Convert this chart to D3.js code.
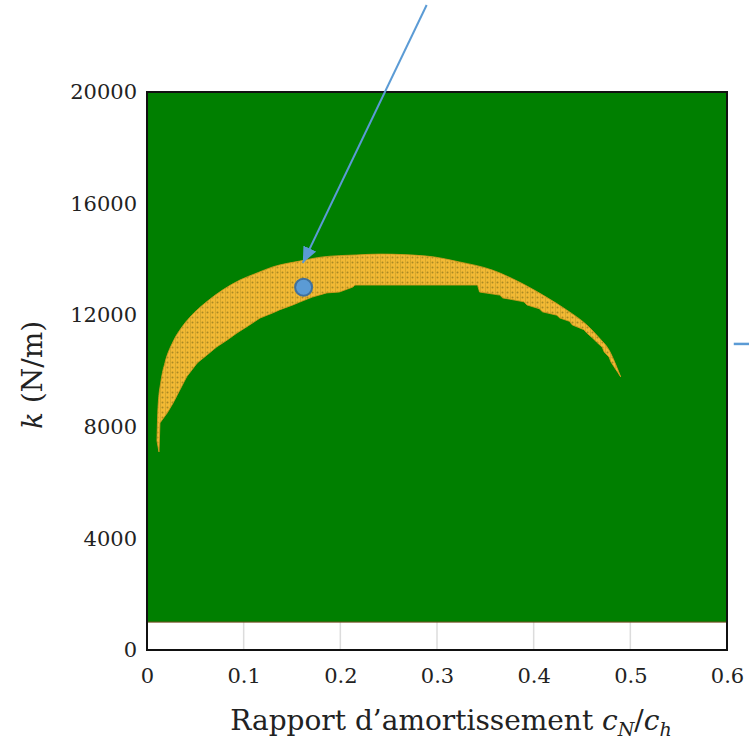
<!DOCTYPE html>
<html>
<head>
<meta charset="utf-8">
<script src="https://cdn.jsdelivr.net/npm/d3@7"></script>
<style>
  html, body { margin: 0; padding: 0; background: #fff; }
  svg { display: block; }
  .tick text { font-family: "DejaVu Serif", serif; fill: #222; }
</style>
</head>
<body>
<svg id="chart" width="749" height="742"></svg>
<script>
// axis ticks
const xTicks = [0, 0.1, 0.2, 0.3, 0.4, 0.5, 0.6];
const yTicks = [0, 4000, 8000, 12000, 16000, 20000];

// green background region (ratio range, k range)
const bgRatio = [0, 0.6];
const bgK = [1000, 20000];

// yellow zone, upper boundary (left -> right)
const upperRatio = [0.0103, 0.0114, 0.0145, 0.0186, 0.0269, 0.0362, 0.0444, 0.062, 0.0785, 0.0961,
  0.1136, 0.130, 0.158, 0.182, 0.217, 0.241, 0.289, 0.323, 0.357, 0.385, 0.413, 0.434, 0.455,
  0.468, 0.478, 0.486, 0.490];
const upperK = [7500, 8700, 9650, 10300, 11050, 11580, 11930, 12490, 12910, 13260,
  13510, 13730, 13940, 14090, 14160, 14190, 14120, 13910, 13620, 13190, 12650, 12190, 11650,
  11180, 10750, 10140, 9790];

// yellow zone, lower boundary (right -> left, stepped)
const lowerRatio = [0.487, 0.480, 0.478, 0.473, 0.471, 0.465, 0.462, 0.455, 0.452, 0.440, 0.437,
  0.427, 0.424, 0.409, 0.406, 0.393, 0.390, 0.368, 0.365, 0.344, 0.342, 0.215, 0.213, 0.199,
  0.186, 0.171, 0.158, 0.151, 0.137, 0.130, 0.117, 0.103, 0.093, 0.083, 0.072, 0.062, 0.052,
  0.041, 0.034, 0.027, 0.021, 0.0134, 0.0124];
const lowerK = [9950, 10320, 10500, 10680, 10850, 11040, 11150, 11360, 11480, 11650, 11780,
  11900, 12000, 12120, 12230, 12370, 12480, 12620, 12720, 12830, 13080, 13080, 13010, 12830,
  12800, 12650, 12470, 12370, 12190, 12080, 11900, 11580, 11360, 11110, 10860, 10570, 10290,
  9790, 9320, 8850, 8500, 8140, 7100];

// highlighted design point
const pointRatio = [0.162];
const pointK = [13000];

// annotation arrow (start, tip) and right-hand pointer
const arrowRatio = [0.2893, 0.1612];
const arrowK = [23118, 13871];
const pointerRatio = [0.607, 0.63];
const pointerK = [10970, 10970];

const svg = d3.select("#chart");
const x = d3.scaleLinear().domain([0, 0.6]).range([147, 727]);
const y = d3.scaleLinear().domain([0, 20000]).range([650, 92]);

const defs = svg.append("defs");
const pat = defs.append("pattern")
    .attr("id", "dots")
    .attr("patternUnits", "userSpaceOnUse")
    .attr("width", 5).attr("height", 5);
pat.append("rect").attr("width", 5).attr("height", 5).attr("fill", "#f2b934");
pat.append("circle").attr("cx", 2.5).attr("cy", 2.5).attr("r", 1)
    .attr("fill", "#7a6a18").attr("opacity", 0.6);
pat.append("rect").attr("x", 0).attr("y", 0).attr("width", 0.8).attr("height", 5)
    .attr("fill", "#9a8018").attr("opacity", 0.4);

defs.append("marker")
    .attr("id", "head")
    .attr("markerUnits", "userSpaceOnUse")
    .attr("viewBox", "0 0 16 14")
    .attr("refX", 16).attr("refY", 7)
    .attr("markerWidth", 16).attr("markerHeight", 14)
    .attr("orient", "auto")
  .append("path")
    .attr("d", "M0,0L16,7L0,14Z")
    .attr("fill", "#5b9bd5");

// grid lines (visible only in the white strip)
svg.append("g").selectAll("line")
  .data(xTicks.slice(1, -1))
  .join("line")
    .attr("x1", d => x(d)).attr("x2", d => x(d))
    .attr("y1", y(20000)).attr("y2", y(0))
    .attr("stroke", "#dcdcdc").attr("stroke-width", 1.5);

// green background
svg.append("rect")
    .attr("x", x(bgRatio[0])).attr("y", y(bgK[1]))
    .attr("width", x(bgRatio[1]) - x(bgRatio[0]))
    .attr("height", y(bgK[0]) - y(bgK[1]))
    .attr("fill", "#007f00");
svg.append("line")
    .attr("x1", x(bgRatio[0])).attr("x2", x(bgRatio[1]))
    .attr("y1", y(bgK[0])).attr("y2", y(bgK[0]))
    .attr("stroke", "#7a4a22").attr("stroke-width", 1);

// yellow zone
const upperPts = upperRatio.map((d, i) => [x(d), y(upperK[i])]);
const lowerPts = lowerRatio.map((d, i) => [x(d), y(lowerK[i])]);
const upperPath = d3.line().curve(d3.curveMonotoneX)(upperPts);
const lowerPath = d3.line()(lowerPts).replace(/^M/, "L");
svg.append("path")
    .attr("d", upperPath + lowerPath + "Z")
    .attr("fill", "url(#dots)")
    .attr("stroke", "#d99a22").attr("stroke-width", 0.8);

// frame
svg.append("rect")
    .attr("x", x(0)).attr("y", y(20000))
    .attr("width", x(0.6) - x(0)).attr("height", y(0) - y(20000))
    .attr("fill", "none").attr("stroke", "#111").attr("stroke-width", 2);

// axes
const xAxis = d3.axisBottom(x).tickValues(xTicks).tickSize(0).tickPadding(18)
    .tickFormat(d => d === 0 ? "0" : d3.format(".1f")(d));
svg.append("g").attr("transform", `translate(0,${y(0)})`).call(xAxis)
    .call(g => g.select(".domain").remove())
    .selectAll("text").style("font-size", "21px");

const yAxis = d3.axisLeft(y).tickValues(yTicks).tickSize(0).tickPadding(10)
    .tickFormat(d3.format("d"));
svg.append("g").attr("transform", `translate(${x(0)},0)`).call(yAxis)
    .call(g => g.select(".domain").remove())
    .selectAll("text").style("font-size", "21px");

// axis titles
const xt = svg.append("text")
    .attr("x", 451).attr("y", 730)
    .attr("text-anchor", "middle")
    .style("font-family", "'DejaVu Serif', serif")
    .style("font-size", "28px").attr("fill", "#222");
xt.append("tspan").text("Rapport d’amortissement ");
xt.append("tspan").style("font-style", "italic").text("c");
xt.append("tspan").attr("dy", 6).style("font-size", "19px").style("font-style", "italic").text("N");
xt.append("tspan").attr("dy", -6).text("/");
xt.append("tspan").style("font-style", "italic").text("c");
xt.append("tspan").attr("dy", 6).style("font-size", "19px").style("font-style", "italic").text("h");

const yt = svg.append("text")
    .attr("transform", "translate(42,375) rotate(-90)")
    .attr("text-anchor", "middle")
    .style("font-family", "'DejaVu Serif', serif")
    .style("font-size", "28px").attr("fill", "#222");
yt.append("tspan").style("font-style", "italic").text("k");
yt.append("tspan").text(" (N/m)");

// design point
svg.append("g").selectAll("circle")
  .data(pointRatio)
  .join("circle")
    .attr("cx", d => x(d)).attr("cy", (d, i) => y(pointK[i]))
    .attr("r", 8.5)
    .attr("fill", "#5b9bd5").attr("stroke", "#41719c").attr("stroke-width", 2);

// annotation arrow
svg.append("line")
    .attr("x1", x(arrowRatio[0])).attr("y1", y(arrowK[0]))
    .attr("x2", x(arrowRatio[1])).attr("y2", y(arrowK[1]))
    .attr("stroke", "#5b9bd5").attr("stroke-width", 2)
    .attr("marker-end", "url(#head)");

svg.append("line")
    .attr("x1", x(pointerRatio[0])).attr("y1", y(pointerK[0]))
    .attr("x2", x(pointerRatio[1])).attr("y2", y(pointerK[1]))
    .attr("stroke", "#5b9bd5").attr("stroke-width", 2.5);
</script>
</body>
</html>
